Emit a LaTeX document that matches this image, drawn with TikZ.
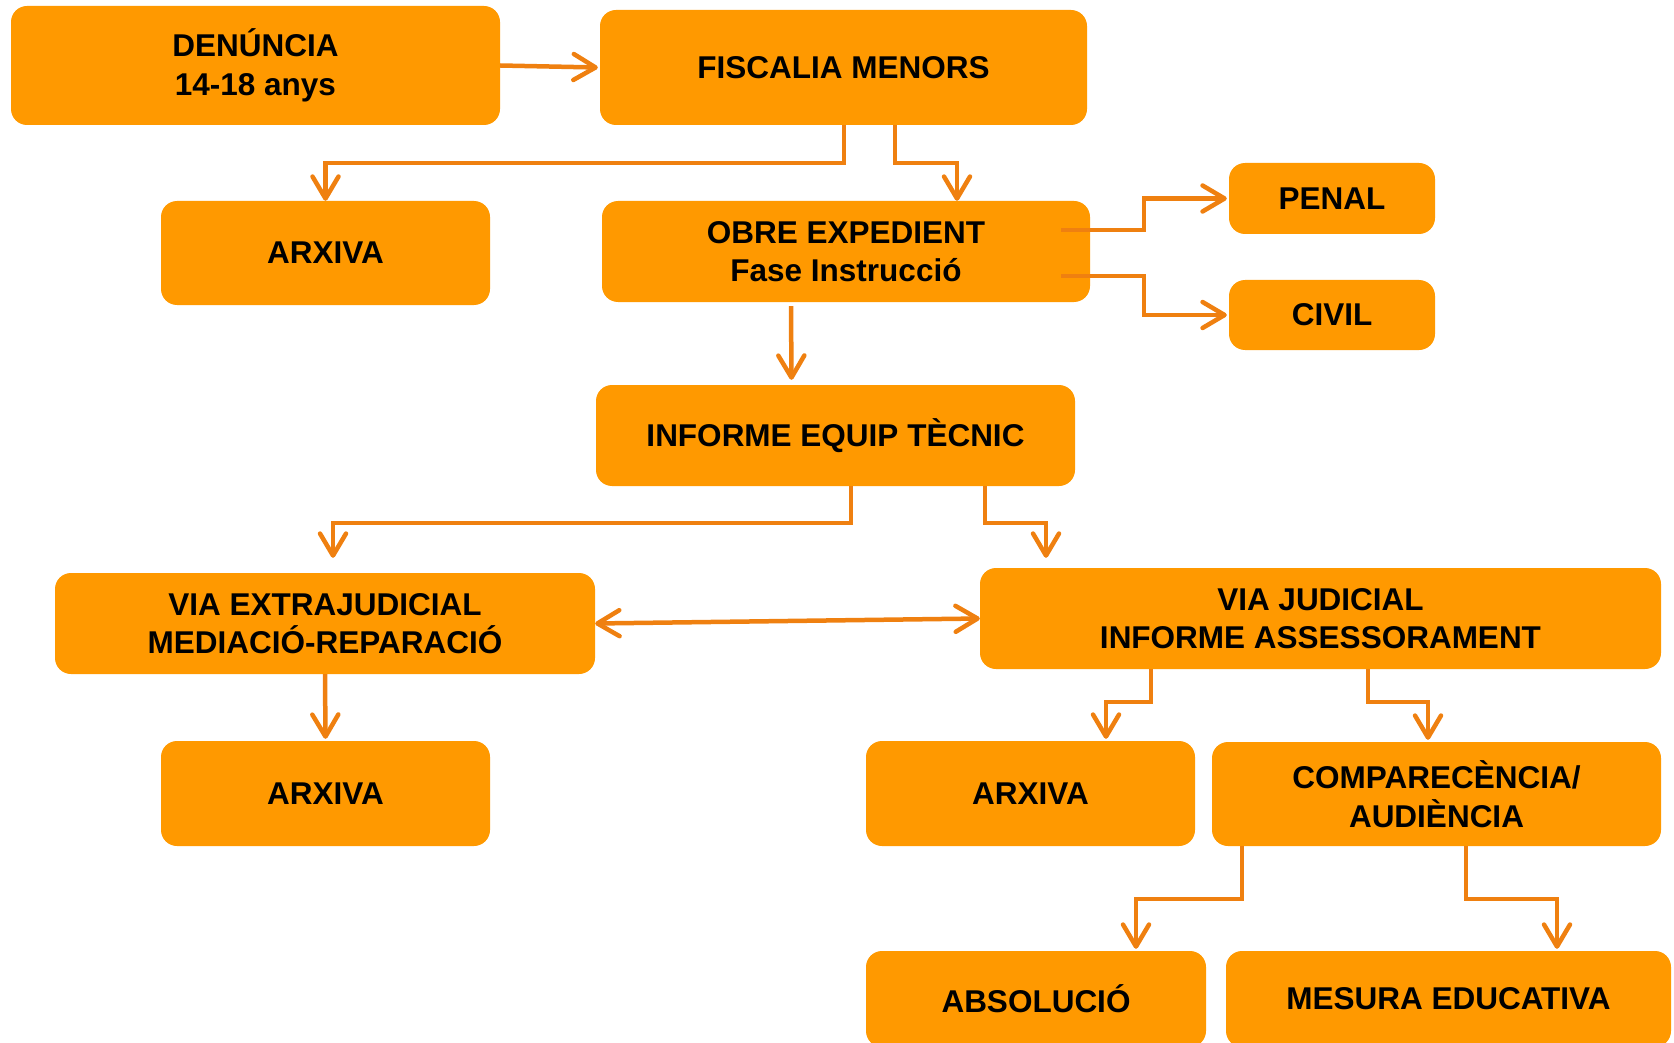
\documentclass[tikz,border=0pt]{standalone}
\usepackage{fontspec}
\setmainfont{Liberation Sans}
\usepackage{tikz}
\usetikzlibrary{calc,arrows.meta}
\definecolor{boxorange}{RGB}{255,153,0}
\definecolor{lineorange}{RGB}{239,128,16}
\tikzset{
	>={Straight Barb[length=22pt,width=26pt,line cap=round,line join=round]},
	box/.style={fill=boxorange, rounded corners=16pt, inner sep=0pt, align=center,
		font=\fontsize{31.5}{38.5}\selectfont\bfseries},
	flow/.style={->, draw=lineorange, line width=4.5pt}
}
\begin{document}
\begin{tikzpicture}[x=1pt,y=-1pt]
		\useasboundingbox (0,0) rectangle (1674,1043);
		
		% boxes
		\node[box, minimum width=489pt, minimum height=119pt] (den) at (255.5,65.5) {DENÚNCIA\\14-18 anys};
		\node[box, minimum width=487pt, minimum height=115pt] (fis) at (843.5,67.5) {FISCALIA MENORS};
		\node[box, minimum width=329pt, minimum height=104pt] (arxa) at (325.5,253) {ARXIVA};
		\node[box, minimum width=488pt, minimum height=101pt] (obre) at (846,251.5) {OBRE EXPEDIENT\\Fase Instrucció};
		\node[box, minimum width=206pt, minimum height=71pt] (penal) at (1332,198.5) {PENAL};
		\node[box, minimum width=206pt, minimum height=70pt] (civil) at (1332,315) {CIVIL};
		\node[box, minimum width=479pt, minimum height=101pt] (inf) at (835.5,435.5) {INFORME EQUIP TÈCNIC};
		\node[box, minimum width=540pt, minimum height=101pt] (extra) at (325,623.5) {VIA EXTRAJUDICIAL\\MEDIACIÓ-REPARACIÓ};
		\node[box, minimum width=681pt, minimum height=101pt] (jud) at (1320.5,618.5) {VIA JUDICIAL\\INFORME ASSESSORAMENT};
		\node[box, minimum width=329pt, minimum height=105pt] (arxb) at (325.5,793.5) {ARXIVA};
		\node[box, minimum width=329pt, minimum height=105pt] (arxc) at (1030.5,793.5) {ARXIVA};
		\node[box, minimum width=449pt, minimum height=104pt] (comp) at (1436.5,794) {COMPARECÈNCIA/\\AUDIÈNCIA};
		\node[box, minimum width=340pt, minimum height=96pt] (abs) at (1036,999) {ABSOLUCIÓ};
		\node[box, minimum width=445pt, minimum height=96pt] (mes) at (1448.5,999) {MESURA EDUCATIVA};
		
		% connectors
		\draw[flow] (den.east) -- ($(fis.west)+(-2,0)$);
		\draw[flow] ($(fis.south)+(0.5,0)$) -- ++(0,38) -| (arxa.north);
		\draw[flow] ($(fis.south)+(51.5,0)$) -- ++(0,38) -| ($(obre.north)+(111,0)$);
		\draw[flow] ($(obre.east)+(-29,-21.5)$) -- ++(83,0) |- ($(penal.west)+(-2,0)$);
		\draw[flow] ($(obre.east)+(-29,24.5)$) -- ++(83,0) |- ($(civil.west)+(-2,0)$);
		\draw[flow] ($(obre.south)+(-55,4)$) -- ($(inf.north)+(-44,-5)$);
		\draw[flow] ($(inf.south)+(15.5,0)$) -- ++(0,37) -| ($(extra.north)+(8,-15)$);
		\draw[flow] ($(inf.south)+(149.5,0)$) -- ++(0,37) -| ($(jud.north)+(-274.5,-10)$);
		\draw[flow,<->] (extra.east) -- (jud.west);
		\draw[flow] (extra.south) -- ($(arxb.north)+(0,-2)$);
		\draw[flow] ($(jud.south)+(-169.5,0)$) -- ++(0,33) -| ($(arxc.north)+(75.5,-2)$);
		\draw[flow] ($(jud.south)+(47.5,0)$) -- ++(0,33) -| ($(comp.north)+(-8.5,-2)$);
		\draw[flow] ($(comp.south)+(-194.5,0)$) -- ++(0,53) -| ($(abs.north)+(100,-2)$);
		\draw[flow] ($(comp.south)+(29.5,0)$) -- ++(0,53) -| ($(mes.north)+(108.5,-2)$);
	\end{tikzpicture}
\end{document}
